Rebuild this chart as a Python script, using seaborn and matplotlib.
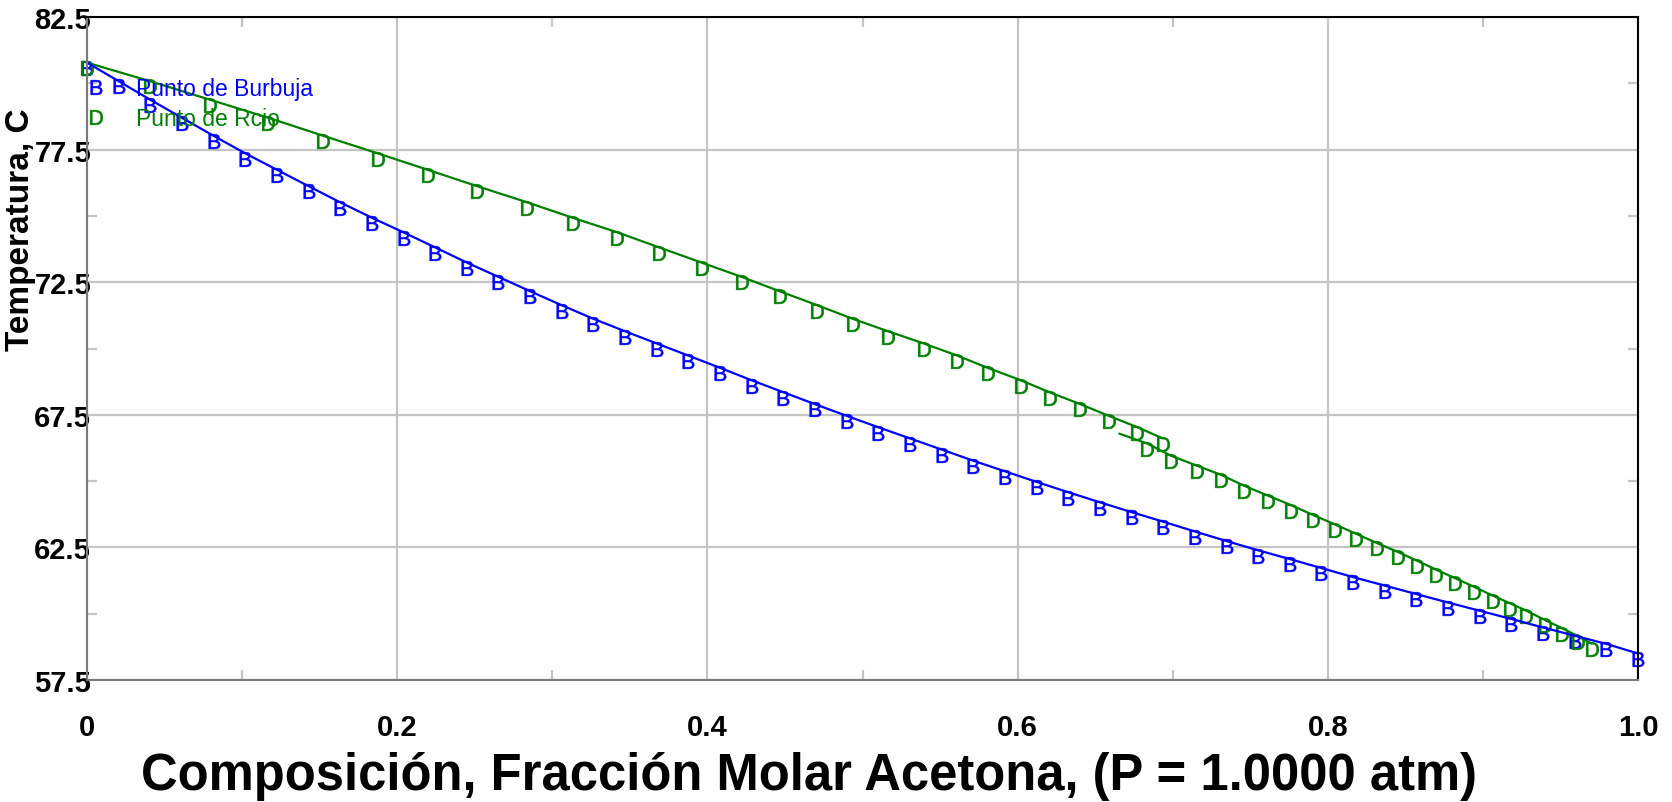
import matplotlib
matplotlib.use('Agg')
import matplotlib.pyplot as plt
import matplotlib.transforms as mtransforms
from matplotlib.lines import Line2D
from matplotlib.ticker import MultipleLocator, FixedLocator, FixedFormatter
import seaborn as sns
import pandas as pd

# liquid composition grid for the bubble curve
comp_x = [0.0, 0.0204, 0.0408, 0.0612, 0.0816, 0.1020, 0.1224, 0.1429, 0.1633, 0.1837,
          0.2041, 0.2245, 0.2449, 0.2653, 0.2857, 0.3061, 0.3265, 0.3469, 0.3673, 0.3878,
          0.4082, 0.4286, 0.4490, 0.4694, 0.4898, 0.5102, 0.5306, 0.5510, 0.5714, 0.5918,
          0.6122, 0.6327, 0.6531, 0.6735, 0.6939, 0.7143, 0.7347, 0.7551, 0.7755, 0.7959,
          0.8163, 0.8367, 0.8571, 0.8776, 0.8980, 0.9184, 0.9388, 0.9592, 0.9796, 1.0]
bubble_T = [80.78, 80.08, 79.38, 78.70, 78.02, 77.36, 76.74, 76.12, 75.51, 74.93,
            74.38, 73.81, 73.24, 72.70, 72.16, 71.63, 71.12, 70.65, 70.19, 69.73,
            69.27, 68.80, 68.35, 67.90, 67.46, 67.03, 66.61, 66.19, 65.77, 65.37,
            64.97, 64.58, 64.20, 63.83, 63.47, 63.10, 62.74, 62.39, 62.06, 61.72,
            61.38, 61.06, 60.74, 60.42, 60.11, 59.80, 59.48, 59.17, 58.86, 58.50]

# dew curve, first branch
dew1_y = [0.0, 0.0406, 0.0793, 0.1169, 0.1524, 0.1874, 0.2196, 0.2516, 0.2839, 0.3131,
          0.3420, 0.3690, 0.3962, 0.4221, 0.4465, 0.4709, 0.4937, 0.5165, 0.5395, 0.5612,
          0.5807, 0.6022, 0.6206, 0.6405, 0.6588, 0.6773, 0.6936]
dew1_T = [80.78, 80.08, 79.38, 78.70, 78.02, 77.36, 76.74, 76.12, 75.51, 74.93,
          74.38, 73.81, 73.24, 72.70, 72.16, 71.63, 71.12, 70.65, 70.19, 69.73,
          69.27, 68.80, 68.35, 67.90, 67.46, 67.03, 66.61]

# dew curve, second branch (first point is line only)
dew2_y = [0.6656, 0.6835, 0.6988, 0.7156, 0.7310, 0.7462, 0.7615, 0.7765, 0.7906, 0.8045,
          0.8184, 0.8318, 0.8452, 0.8578, 0.8699, 0.8817, 0.8941, 0.9064, 0.9176, 0.9281,
          0.9400, 0.9512, 0.9613, 0.9702]
dew2_T = [66.79, 66.42, 65.96, 65.58, 65.24, 64.82, 64.45, 64.09, 63.72, 63.37,
          63.01, 62.66, 62.33, 61.99, 61.66, 61.35, 61.02, 60.68, 60.39, 60.11,
          59.76, 59.45, 59.15, 58.87]

x_ticks = [0.0, 0.2, 0.4, 0.6, 0.8, 1.0]
x_tick_labels = ['0', '0.2', '0.4', '0.6', '0.8', '1.0']
y_ticks = [57.5, 62.5, 67.5, 72.5, 77.5, 82.5]
y_tick_labels = ['57.5', '62.5', '67.5', '72.5', '77.5', '82.5']

BLUE = '#0000ff'
GREEN = '#008000'

sns.set_style('white')
plt.rcParams['font.family'] = ['Liberation Sans', 'DejaVu Sans']
plt.rcParams['mathtext.fontset'] = 'custom'
plt.rcParams['mathtext.sf'] = 'Liberation Sans'
plt.rcParams.update({'text.color': 'black', 'axes.labelcolor': 'black',
                     'xtick.labelcolor': 'black', 'ytick.labelcolor': 'black'})

bubble = pd.DataFrame({'x': comp_x, 'T': bubble_T})
dew1 = pd.DataFrame({'x': dew1_y, 'T': dew1_T})
dew2 = pd.DataFrame({'x': dew2_y, 'T': dew2_T})

fig = plt.figure(figsize=(16.72, 8.03), dpi=100)
ax = fig.add_axes([87 / 1672, 1 - 681 / 803, 1551 / 1672, 663 / 803])

# curves
sns.lineplot(data=dew1, x='x', y='T', sort=False, estimator=None, color=GREEN, lw=1.6, ax=ax)
sns.lineplot(data=dew2, x='x', y='T', sort=False, estimator=None, color=GREEN, lw=1.6, ax=ax)
sns.lineplot(data=bubble, x='x', y='T', sort=False, estimator=None, color=BLUE, lw=1.6, ax=ax)

# letter markers, a little below each point
shift = mtransforms.offset_copy(ax.transData, fig=fig, x=0, y=-3.8, units='points')
msize = 112
sns.scatterplot(data=bubble, x='x', y='T', marker=r'$\mathsf{B}$', s=msize, color=BLUE,
                edgecolor=BLUE, linewidth=0.4, ax=ax, clip_on=False)
ax.collections[-1].set_offset_transform(shift)
sns.scatterplot(data=dew1, x='x', y='T', marker=r'$\mathsf{D}$', s=msize, color=GREEN,
                edgecolor=GREEN, linewidth=0.4, ax=ax, clip_on=False)
ax.collections[-1].set_offset_transform(shift)
sns.scatterplot(data=dew2.iloc[1:], x='x', y='T', marker=r'$\mathsf{D}$', s=msize, color=GREEN,
                edgecolor=GREEN, linewidth=0.4, ax=ax, clip_on=False)
ax.collections[-1].set_offset_transform(shift)

ax.set_xlim(0, 1.0)
ax.set_ylim(57.5, 82.5)

ax.xaxis.set_major_locator(FixedLocator(x_ticks))
ax.xaxis.set_major_formatter(FixedFormatter(x_tick_labels))
ax.yaxis.set_major_locator(FixedLocator(y_ticks))
ax.yaxis.set_major_formatter(FixedFormatter(y_tick_labels))
ax.xaxis.set_minor_locator(MultipleLocator(0.1))
ax.yaxis.set_minor_locator(MultipleLocator(2.5))

ax.grid(True, which='major', color='#c4c4c4', lw=1.6)
ax.tick_params(which='major', length=0)
ax.tick_params(axis='x', which='major', pad=24, labelsize=21, labelcolor='black')
ax.tick_params(axis='y', which='major', pad=-3, labelsize=21, labelcolor='black')
for lab in ax.get_xticklabels() + ax.get_yticklabels():
    lab.set_fontweight('bold')
ax.tick_params(which='minor', direction='in', length=7, width=1.6, color='#c4c4c4',
               top=True, right=True, bottom=True, left=True)

for side in ['left', 'bottom']:
    ax.spines[side].set_color('#7a7a7a')
    ax.spines[side].set_linewidth(1.5)
for side in ['top', 'right']:
    ax.spines[side].set_color('black')
    ax.spines[side].set_linewidth(1.5)

ax.set_xlabel('Composición, Fracción Molar Acetona, (P = 1.0000 atm)', fontsize=36.5,
              fontweight='bold', color='black')
ax.xaxis.set_label_coords(0.4655, -0.107)
ax.set_ylabel('Temperatura, C', fontsize=24, fontweight='bold', color='black')
ax.yaxis.set_label_coords(-0.033, 0.68)

handles = [
    Line2D([], [], ls='none', marker=r'$\mathsf{B}$', markersize=10.6, color=BLUE,
           markeredgewidth=0.4),
    Line2D([], [], ls='none', marker=r'$\mathsf{D}$', markersize=10.6, color=GREEN,
           markeredgewidth=0.4),
]
leg = ax.legend(handles, ['Punto de Burbuja', 'Punto de Rcio'], loc='upper left',
                bbox_to_anchor=(0.0, 0.913), frameon=False, fontsize=16.5,
                borderaxespad=0, borderpad=0.1, handlelength=0.6, handletextpad=1.45,
                labelspacing=0.3)
leg.get_texts()[0].set_color(BLUE)
leg.get_texts()[1].set_color(GREEN)

fig.savefig('out.png', dpi=100, facecolor='white')
